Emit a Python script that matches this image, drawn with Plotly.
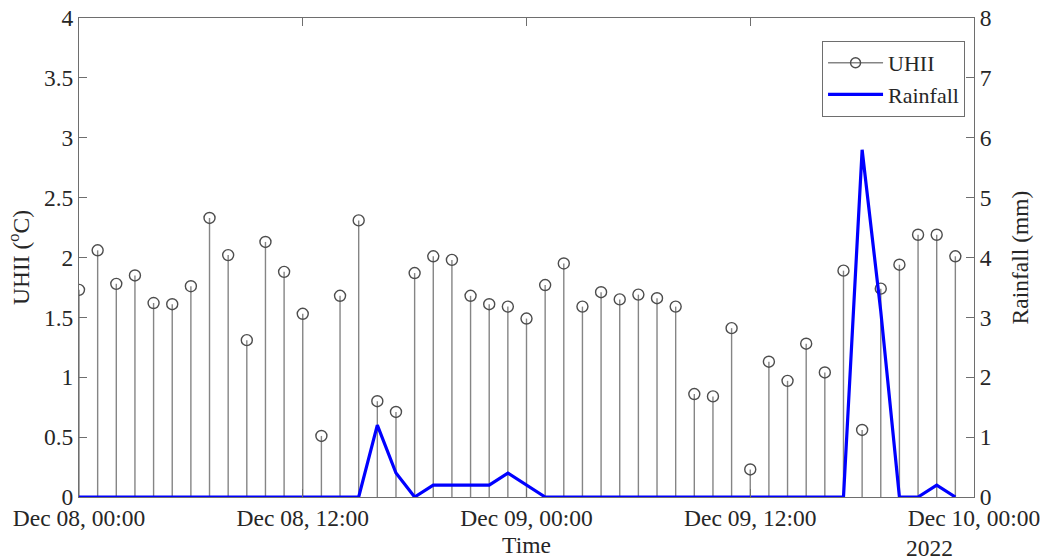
import plotly.graph_objects as go
import pandas as pd

# Hourly timestamps, Dec 08 00:00 .. Dec 09 23:00 (2022)
times = pd.date_range("2022-12-08 00:00", periods=48, freq="h")

uhii = [1.73, 2.06, 1.78, 1.85, 1.62, 1.61, 1.76, 2.33, 2.02, 1.31,
        2.13, 1.88, 1.53, 0.51, 1.68, 2.31, 0.80, 0.71, 1.87, 2.01,
        1.98, 1.68, 1.61, 1.59, 1.49, 1.77, 1.95, 1.59, 1.71, 1.65,
        1.69, 1.66, 1.59, 0.86, 0.84, 1.41, 0.23, 1.13, 0.97, 1.28,
        1.04, 1.89, 0.56, 1.74, 1.94, 2.19, 2.19, 2.01]

rainfall = [0, 0, 0, 0, 0, 0, 0, 0, 0, 0,
            0, 0, 0, 0, 0, 0, 1.2, 0.4, 0, 0.2,
            0.2, 0.2, 0.2, 0.4, 0.2, 0, 0, 0, 0, 0,
            0, 0, 0, 0, 0, 0, 0, 0, 0, 0,
            0, 0, 5.8, 3.1, 0, 0, 0.2, 0]

tick_vals = ["2022-12-08 00:00", "2022-12-08 12:00", "2022-12-09 00:00",
             "2022-12-09 12:00", "2022-12-10 00:00"]
tick_text = ["Dec 08, 00:00", "Dec 08, 12:00", "Dec 09, 00:00",
             "Dec 09, 12:00", "Dec 10, 00:00"]

FONT = "Liberation Serif"
TXT = "#262626"
AX = "#6e6e6e"
FS = 23.5

fig = go.Figure()

# UHII stems (error bars down to zero) + open circle markers
fig.add_trace(go.Scatter(
    x=times, y=uhii, mode="markers", showlegend=False,
    marker=dict(symbol="circle-open", size=11, color="#4d4d4d",
                line=dict(width=1.4, color="#4d4d4d")),
    error_y=dict(type="data", symmetric=False, array=[0] * len(uhii),
                 arrayminus=uhii, thickness=1.4, width=0, color="#858585"),
    yaxis="y"))

# legend proxy for UHII
fig.add_trace(go.Scatter(
    x=[None], y=[None], mode="lines+markers", name="UHII",
    line=dict(color="#858585", width=1.4),
    marker=dict(symbol="circle-open", size=10, color="#4d4d4d",
                line=dict(width=1.4, color="#4d4d4d"))))

fig.add_trace(go.Scatter(
    x=times, y=rainfall, mode="lines", name="Rainfall",
    line=dict(color="#0000ff", width=3.2), yaxis="y2"))

fig.update_layout(
    width=1047, height=560,
    margin=dict(l=79, r=73, t=18, b=63),
    paper_bgcolor="white", plot_bgcolor="white",
    font=dict(family=FONT, size=FS, color=TXT),
    xaxis=dict(
        range=["2022-12-08 00:00", "2022-12-10 00:00"],
        tickmode="array", tickvals=tick_vals, ticktext=tick_text,
        ticks="inside", ticklen=8, tickcolor=AX, mirror="ticks",
        showline=True, linecolor=AX, linewidth=1, showgrid=False,
        zeroline=False, tickfont=dict(size=FS), automargin=False,
        ticklabeloverflow="allow",
        title=dict(text="Time", standoff=6, font=dict(size=FS))),
    yaxis=dict(
        range=[0, 4], dtick=0.5, ticks="inside", ticklen=8, tickcolor=AX,
        showline=True, linecolor=AX, linewidth=1, showgrid=False,
        zeroline=False, tickfont=dict(size=FS), automargin=False,
        ticklabeloverflow="allow",
        title=dict(text="UHII (<sup>o</sup>C)", standoff=7,
                   font=dict(size=FS))),
    yaxis2=dict(
        range=[0, 8], dtick=1, overlaying="y", side="right",
        ticks="inside", ticklen=8, tickcolor=AX,
        showline=True, linecolor=AX, linewidth=1, showgrid=False,
        zeroline=False, tickfont=dict(size=FS), automargin=False,
        ticklabeloverflow="allow",
        title=dict(text="Rainfall (mm)", standoff=20, font=dict(size=FS))),
    legend=dict(x=0.99, y=0.952, xanchor="right", yanchor="top",
                bgcolor="white", bordercolor=AX, borderwidth=1,
                font=dict(size=22), tracegroupgap=0, itemwidth=55),
    annotations=[dict(text="2022", x="2022-12-10 00:00", xref="x",
                      y=0, yref="paper", xanchor="left", yanchor="middle",
                      xshift=-70, yshift=-51, showarrow=False,
                      font=dict(size=FS, color=TXT))],
)

# remove the default 8px page margin so the figure fills the window exactly
fig.write_html("out.html",
               config={"displayModeBar": False},
               post_script="document.body.style.margin='0';"
                           "document.body.style.overflow='hidden';")
